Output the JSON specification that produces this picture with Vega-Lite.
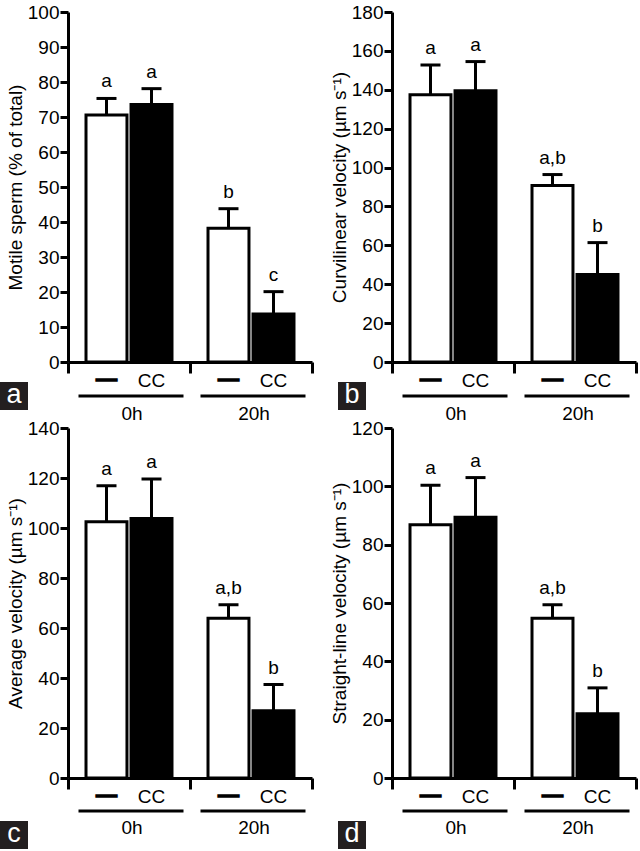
{
  "$schema": "https://vega.github.io/schema/vega-lite/v6.json",
  "padding": {"left": 0, "top": 3, "right": 5, "bottom": 5},
  "background": "white",
  "datasets": {
    "A": [
      {"time": "0h", "treat": "—", "value": 70.6, "upper": 75.3, "letter": "a"},
      {"time": "0h", "treat": "CC", "value": 73.6, "upper": 78.1, "letter": "a"},
      {"time": "20h", "treat": "—", "value": 38.2, "upper": 43.8, "letter": "b"},
      {"time": "20h", "treat": "CC", "value": 13.7, "upper": 20.1, "letter": "c"}
    ],
    "B": [
      {"time": "0h", "treat": "—", "value": 137.4, "upper": 152.7, "letter": "a"},
      {"time": "0h", "treat": "CC", "value": 139.5, "upper": 154.5, "letter": "a"},
      {"time": "20h", "treat": "—", "value": 90.8, "upper": 96.4, "letter": "a,b"},
      {"time": "20h", "treat": "CC", "value": 45.0, "upper": 61.4, "letter": "b"}
    ],
    "C": [
      {"time": "0h", "treat": "—", "value": 102.5, "upper": 116.9, "letter": "a"},
      {"time": "0h", "treat": "CC", "value": 103.8, "upper": 119.6, "letter": "a"},
      {"time": "20h", "treat": "—", "value": 63.9, "upper": 69.3, "letter": "a,b"},
      {"time": "20h", "treat": "CC", "value": 26.9, "upper": 37.4, "letter": "b"}
    ],
    "D": [
      {"time": "0h", "treat": "—", "value": 86.8, "upper": 100.4, "letter": "a"},
      {"time": "0h", "treat": "CC", "value": 89.4, "upper": 103.0, "letter": "a"},
      {"time": "20h", "treat": "—", "value": 54.8, "upper": 59.4, "letter": "a,b"},
      {"time": "20h", "treat": "CC", "value": 22.0, "upper": 30.9, "letter": "b"}
    ]
  },
  "columns": 2,
  "spacing": {"row": 66, "column": 80},
  "bounds": "flush",
  "concat": [
    {
      "width": 244, "height": 350,
      "data": {"name": "A"},
      "encoding": {
        "x": {"field": "time", "type": "nominal", "sort": ["0h", "20h"], "scale": {"paddingInner": 0, "paddingOuter": 0}, "axis": {"title": null, "labels": false, "tickBand": "extent", "tickSize": 11}}
      },
      "layer": [
        {"mark": {"type": "bar", "stroke": "black", "strokeWidth": 3},
         "encoding": {
           "xOffset": {"field": "treat", "type": "nominal", "sort": ["—", "CC"], "scale": {"paddingInner": 0.09, "paddingOuter": 0.4}},
           "y": {"field": "value", "type": "quantitative", "scale": {"domain": [0, 100], "nice": false}, "axis": {"values": [0, 10, 20, 30, 40, 50, 60, 70, 80, 90, 100], "title": "Motile sperm (% of total)"}},
           "fill": {"field": "treat", "type": "nominal", "scale": {"domain": ["—", "CC"], "range": ["white", "black"]}, "legend": null}
         }},
        {"mark": {"type": "rule", "strokeWidth": 3, "color": "black"},
         "encoding": {"xOffset": {"field": "treat", "type": "nominal", "sort": ["—", "CC"]}, "y": {"field": "value", "type": "quantitative", "axis": {"values": [0, 10, 20, 30, 40, 50, 60, 70, 80, 90, 100], "title": "Motile sperm (% of total)"}}, "y2": {"field": "upper"}}},
        {"mark": {"type": "tick", "size": 20, "thickness": 3, "color": "black", "opacity": 1},
         "encoding": {"xOffset": {"field": "treat", "type": "nominal", "sort": ["—", "CC"]}, "y": {"field": "upper", "type": "quantitative", "axis": {"values": [0, 10, 20, 30, 40, 50, 60, 70, 80, 90, 100], "title": "Motile sperm (% of total)"}}}},
        {"mark": {"type": "text", "baseline": "alphabetic", "dy": -11},
         "encoding": {"xOffset": {"field": "treat", "type": "nominal", "sort": ["—", "CC"]}, "y": {"field": "upper", "type": "quantitative", "axis": {"values": [0, 10, 20, 30, 40, 50, 60, 70, 80, 90, 100], "title": "Motile sperm (% of total)"}}, "text": {"field": "letter"}}},
        {"transform": [{"filter": "datum.treat === 'CC'"}],
         "mark": {"type": "text", "baseline": "middle", "dy": 19},
         "encoding": {"xOffset": {"field": "treat", "type": "nominal", "sort": ["—", "CC"]}, "y": {"datum": 0, "axis": {"values": [0, 10, 20, 30, 40, 50, 60, 70, 80, 90, 100], "title": "Motile sperm (% of total)"}}, "text": {"field": "treat"}}},
        {"transform": [{"filter": "datum.treat !== 'CC'"}],
         "mark": {"type": "text", "baseline": "middle", "dy": 17, "fontWeight": "bold", "fontSize": 21, "stroke": "black", "strokeWidth": 1.4},
         "encoding": {"xOffset": {"field": "treat", "type": "nominal", "sort": ["—", "CC"]}, "y": {"datum": 0, "axis": {"values": [0, 10, 20, 30, 40, 50, 60, 70, 80, 90, 100], "title": "Motile sperm (% of total)"}}, "text": {"field": "treat"}}},
        {"transform": [{"aggregate": [{"op": "count", "as": "n"}], "groupby": ["time"]}],
         "mark": {"type": "tick", "size": 105, "thickness": 3, "color": "black", "opacity": 1, "yOffset": 34, "xOffset": 2},
         "encoding": {"y": {"datum": 0, "axis": {"values": [0, 10, 20, 30, 40, 50, 60, 70, 80, 90, 100], "title": "Motile sperm (% of total)"}}}},
        {"transform": [{"aggregate": [{"op": "count", "as": "n"}], "groupby": ["time"]}],
         "mark": {"type": "text", "baseline": "middle", "dy": 52, "dx": 3},
         "encoding": {"y": {"datum": 0, "axis": {"values": [0, 10, 20, 30, 40, 50, 60, 70, 80, 90, 100], "title": "Motile sperm (% of total)"}}, "text": {"field": "time"}}},
        {"transform": [{"filter": "datum.time === '0h' && datum.treat === 'CC'"}],
         "mark": {"type": "point", "shape": "square", "size": 784, "filled": true, "color": "#231f20", "opacity": 1, "xOffset": -115, "yOffset": 34},
         "encoding": {"y": {"datum": 0, "axis": {"values": [0, 10, 20, 30, 40, 50, 60, 70, 80, 90, 100], "title": "Motile sperm (% of total)"}}}},
        {"transform": [{"filter": "datum.time === '0h' && datum.treat === 'CC'"}],
         "mark": {"type": "text", "baseline": "middle", "fontSize": 27, "color": "white", "xOffset": -115, "yOffset": 33},
         "encoding": {"y": {"datum": 0, "axis": {"values": [0, 10, 20, 30, 40, 50, 60, 70, 80, 90, 100], "title": "Motile sperm (% of total)"}}, "text": {"value": "a"}}}
      ]
    },
    {
      "width": 244, "height": 350,
      "data": {"name": "B"},
      "encoding": {
        "x": {"field": "time", "type": "nominal", "sort": ["0h", "20h"], "scale": {"paddingInner": 0, "paddingOuter": 0}, "axis": {"title": null, "labels": false, "tickBand": "extent", "tickSize": 11}}
      },
      "layer": [
        {"mark": {"type": "bar", "stroke": "black", "strokeWidth": 3},
         "encoding": {
           "xOffset": {"field": "treat", "type": "nominal", "sort": ["—", "CC"], "scale": {"paddingInner": 0.09, "paddingOuter": 0.4}},
           "y": {"field": "value", "type": "quantitative", "scale": {"domain": [0, 180], "nice": false}, "axis": {"values": [0, 20, 40, 60, 80, 100, 120, 140, 160, 180], "title": "Curvilinear velocity (µm s⁻¹)"}},
           "fill": {"field": "treat", "type": "nominal", "scale": {"domain": ["—", "CC"], "range": ["white", "black"]}, "legend": null}
         }},
        {"mark": {"type": "rule", "strokeWidth": 3, "color": "black"},
         "encoding": {"xOffset": {"field": "treat", "type": "nominal", "sort": ["—", "CC"]}, "y": {"field": "value", "type": "quantitative", "axis": {"values": [0, 20, 40, 60, 80, 100, 120, 140, 160, 180], "title": "Curvilinear velocity (µm s⁻¹)"}}, "y2": {"field": "upper"}}},
        {"mark": {"type": "tick", "size": 20, "thickness": 3, "color": "black", "opacity": 1},
         "encoding": {"xOffset": {"field": "treat", "type": "nominal", "sort": ["—", "CC"]}, "y": {"field": "upper", "type": "quantitative", "axis": {"values": [0, 20, 40, 60, 80, 100, 120, 140, 160, 180], "title": "Curvilinear velocity (µm s⁻¹)"}}}},
        {"mark": {"type": "text", "baseline": "alphabetic", "dy": -11},
         "encoding": {"xOffset": {"field": "treat", "type": "nominal", "sort": ["—", "CC"]}, "y": {"field": "upper", "type": "quantitative", "axis": {"values": [0, 20, 40, 60, 80, 100, 120, 140, 160, 180], "title": "Curvilinear velocity (µm s⁻¹)"}}, "text": {"field": "letter"}}},
        {"transform": [{"filter": "datum.treat === 'CC'"}],
         "mark": {"type": "text", "baseline": "middle", "dy": 19},
         "encoding": {"xOffset": {"field": "treat", "type": "nominal", "sort": ["—", "CC"]}, "y": {"datum": 0, "axis": {"values": [0, 20, 40, 60, 80, 100, 120, 140, 160, 180], "title": "Curvilinear velocity (µm s⁻¹)"}}, "text": {"field": "treat"}}},
        {"transform": [{"filter": "datum.treat !== 'CC'"}],
         "mark": {"type": "text", "baseline": "middle", "dy": 17, "fontWeight": "bold", "fontSize": 21, "stroke": "black", "strokeWidth": 1.4},
         "encoding": {"xOffset": {"field": "treat", "type": "nominal", "sort": ["—", "CC"]}, "y": {"datum": 0, "axis": {"values": [0, 20, 40, 60, 80, 100, 120, 140, 160, 180], "title": "Curvilinear velocity (µm s⁻¹)"}}, "text": {"field": "treat"}}},
        {"transform": [{"aggregate": [{"op": "count", "as": "n"}], "groupby": ["time"]}],
         "mark": {"type": "tick", "size": 105, "thickness": 3, "color": "black", "opacity": 1, "yOffset": 34, "xOffset": 2},
         "encoding": {"y": {"datum": 0, "axis": {"values": [0, 20, 40, 60, 80, 100, 120, 140, 160, 180], "title": "Curvilinear velocity (µm s⁻¹)"}}}},
        {"transform": [{"aggregate": [{"op": "count", "as": "n"}], "groupby": ["time"]}],
         "mark": {"type": "text", "baseline": "middle", "dy": 52, "dx": 3},
         "encoding": {"y": {"datum": 0, "axis": {"values": [0, 20, 40, 60, 80, 100, 120, 140, 160, 180], "title": "Curvilinear velocity (µm s⁻¹)"}}, "text": {"field": "time"}}},
        {"transform": [{"filter": "datum.time === '0h' && datum.treat === 'CC'"}],
         "mark": {"type": "point", "shape": "square", "size": 784, "filled": true, "color": "#231f20", "opacity": 1, "xOffset": -101, "yOffset": 34},
         "encoding": {"y": {"datum": 0, "axis": {"values": [0, 20, 40, 60, 80, 100, 120, 140, 160, 180], "title": "Curvilinear velocity (µm s⁻¹)"}}}},
        {"transform": [{"filter": "datum.time === '0h' && datum.treat === 'CC'"}],
         "mark": {"type": "text", "baseline": "middle", "fontSize": 27, "color": "white", "xOffset": -101, "yOffset": 33},
         "encoding": {"y": {"datum": 0, "axis": {"values": [0, 20, 40, 60, 80, 100, 120, 140, 160, 180], "title": "Curvilinear velocity (µm s⁻¹)"}}, "text": {"value": "b"}}}
      ]
    },
    {
      "width": 244, "height": 350,
      "data": {"name": "C"},
      "encoding": {
        "x": {"field": "time", "type": "nominal", "sort": ["0h", "20h"], "scale": {"paddingInner": 0, "paddingOuter": 0}, "axis": {"title": null, "labels": false, "tickBand": "extent", "tickSize": 11}}
      },
      "layer": [
        {"mark": {"type": "bar", "stroke": "black", "strokeWidth": 3},
         "encoding": {
           "xOffset": {"field": "treat", "type": "nominal", "sort": ["—", "CC"], "scale": {"paddingInner": 0.09, "paddingOuter": 0.4}},
           "y": {"field": "value", "type": "quantitative", "scale": {"domain": [0, 140], "nice": false}, "axis": {"values": [0, 20, 40, 60, 80, 100, 120, 140], "title": "Average velocity (µm s⁻¹)"}},
           "fill": {"field": "treat", "type": "nominal", "scale": {"domain": ["—", "CC"], "range": ["white", "black"]}, "legend": null}
         }},
        {"mark": {"type": "rule", "strokeWidth": 3, "color": "black"},
         "encoding": {"xOffset": {"field": "treat", "type": "nominal", "sort": ["—", "CC"]}, "y": {"field": "value", "type": "quantitative", "axis": {"values": [0, 20, 40, 60, 80, 100, 120, 140], "title": "Average velocity (µm s⁻¹)"}}, "y2": {"field": "upper"}}},
        {"mark": {"type": "tick", "size": 20, "thickness": 3, "color": "black", "opacity": 1},
         "encoding": {"xOffset": {"field": "treat", "type": "nominal", "sort": ["—", "CC"]}, "y": {"field": "upper", "type": "quantitative", "axis": {"values": [0, 20, 40, 60, 80, 100, 120, 140], "title": "Average velocity (µm s⁻¹)"}}}},
        {"mark": {"type": "text", "baseline": "alphabetic", "dy": -11},
         "encoding": {"xOffset": {"field": "treat", "type": "nominal", "sort": ["—", "CC"]}, "y": {"field": "upper", "type": "quantitative", "axis": {"values": [0, 20, 40, 60, 80, 100, 120, 140], "title": "Average velocity (µm s⁻¹)"}}, "text": {"field": "letter"}}},
        {"transform": [{"filter": "datum.treat === 'CC'"}],
         "mark": {"type": "text", "baseline": "middle", "dy": 19},
         "encoding": {"xOffset": {"field": "treat", "type": "nominal", "sort": ["—", "CC"]}, "y": {"datum": 0, "axis": {"values": [0, 20, 40, 60, 80, 100, 120, 140], "title": "Average velocity (µm s⁻¹)"}}, "text": {"field": "treat"}}},
        {"transform": [{"filter": "datum.treat !== 'CC'"}],
         "mark": {"type": "text", "baseline": "middle", "dy": 17, "fontWeight": "bold", "fontSize": 21, "stroke": "black", "strokeWidth": 1.4},
         "encoding": {"xOffset": {"field": "treat", "type": "nominal", "sort": ["—", "CC"]}, "y": {"datum": 0, "axis": {"values": [0, 20, 40, 60, 80, 100, 120, 140], "title": "Average velocity (µm s⁻¹)"}}, "text": {"field": "treat"}}},
        {"transform": [{"aggregate": [{"op": "count", "as": "n"}], "groupby": ["time"]}],
         "mark": {"type": "tick", "size": 105, "thickness": 3, "color": "black", "opacity": 1, "yOffset": 33, "xOffset": 2},
         "encoding": {"y": {"datum": 0, "axis": {"values": [0, 20, 40, 60, 80, 100, 120, 140], "title": "Average velocity (µm s⁻¹)"}}}},
        {"transform": [{"aggregate": [{"op": "count", "as": "n"}], "groupby": ["time"]}],
         "mark": {"type": "text", "baseline": "middle", "dy": 50, "dx": 3},
         "encoding": {"y": {"datum": 0, "axis": {"values": [0, 20, 40, 60, 80, 100, 120, 140], "title": "Average velocity (µm s⁻¹)"}}, "text": {"field": "time"}}},
        {"transform": [{"filter": "datum.time === '0h' && datum.treat === 'CC'"}],
         "mark": {"type": "point", "shape": "square", "size": 784, "filled": true, "color": "#231f20", "opacity": 1, "xOffset": -115, "yOffset": 57},
         "encoding": {"y": {"datum": 0, "axis": {"values": [0, 20, 40, 60, 80, 100, 120, 140], "title": "Average velocity (µm s⁻¹)"}}}},
        {"transform": [{"filter": "datum.time === '0h' && datum.treat === 'CC'"}],
         "mark": {"type": "text", "baseline": "middle", "fontSize": 27, "color": "white", "xOffset": -115, "yOffset": 56},
         "encoding": {"y": {"datum": 0, "axis": {"values": [0, 20, 40, 60, 80, 100, 120, 140], "title": "Average velocity (µm s⁻¹)"}}, "text": {"value": "c"}}}
      ]
    },
    {
      "width": 244, "height": 350,
      "data": {"name": "D"},
      "encoding": {
        "x": {"field": "time", "type": "nominal", "sort": ["0h", "20h"], "scale": {"paddingInner": 0, "paddingOuter": 0}, "axis": {"title": null, "labels": false, "tickBand": "extent", "tickSize": 11}}
      },
      "layer": [
        {"mark": {"type": "bar", "stroke": "black", "strokeWidth": 3},
         "encoding": {
           "xOffset": {"field": "treat", "type": "nominal", "sort": ["—", "CC"], "scale": {"paddingInner": 0.09, "paddingOuter": 0.4}},
           "y": {"field": "value", "type": "quantitative", "scale": {"domain": [0, 120], "nice": false}, "axis": {"values": [0, 20, 40, 60, 80, 100, 120], "title": "Straight-line velocity (µm s⁻¹)"}},
           "fill": {"field": "treat", "type": "nominal", "scale": {"domain": ["—", "CC"], "range": ["white", "black"]}, "legend": null}
         }},
        {"mark": {"type": "rule", "strokeWidth": 3, "color": "black"},
         "encoding": {"xOffset": {"field": "treat", "type": "nominal", "sort": ["—", "CC"]}, "y": {"field": "value", "type": "quantitative", "axis": {"values": [0, 20, 40, 60, 80, 100, 120], "title": "Straight-line velocity (µm s⁻¹)"}}, "y2": {"field": "upper"}}},
        {"mark": {"type": "tick", "size": 20, "thickness": 3, "color": "black", "opacity": 1},
         "encoding": {"xOffset": {"field": "treat", "type": "nominal", "sort": ["—", "CC"]}, "y": {"field": "upper", "type": "quantitative", "axis": {"values": [0, 20, 40, 60, 80, 100, 120], "title": "Straight-line velocity (µm s⁻¹)"}}}},
        {"mark": {"type": "text", "baseline": "alphabetic", "dy": -11},
         "encoding": {"xOffset": {"field": "treat", "type": "nominal", "sort": ["—", "CC"]}, "y": {"field": "upper", "type": "quantitative", "axis": {"values": [0, 20, 40, 60, 80, 100, 120], "title": "Straight-line velocity (µm s⁻¹)"}}, "text": {"field": "letter"}}},
        {"transform": [{"filter": "datum.treat === 'CC'"}],
         "mark": {"type": "text", "baseline": "middle", "dy": 19},
         "encoding": {"xOffset": {"field": "treat", "type": "nominal", "sort": ["—", "CC"]}, "y": {"datum": 0, "axis": {"values": [0, 20, 40, 60, 80, 100, 120], "title": "Straight-line velocity (µm s⁻¹)"}}, "text": {"field": "treat"}}},
        {"transform": [{"filter": "datum.treat !== 'CC'"}],
         "mark": {"type": "text", "baseline": "middle", "dy": 17, "fontWeight": "bold", "fontSize": 21, "stroke": "black", "strokeWidth": 1.4},
         "encoding": {"xOffset": {"field": "treat", "type": "nominal", "sort": ["—", "CC"]}, "y": {"datum": 0, "axis": {"values": [0, 20, 40, 60, 80, 100, 120], "title": "Straight-line velocity (µm s⁻¹)"}}, "text": {"field": "treat"}}},
        {"transform": [{"aggregate": [{"op": "count", "as": "n"}], "groupby": ["time"]}],
         "mark": {"type": "tick", "size": 105, "thickness": 3, "color": "black", "opacity": 1, "yOffset": 33, "xOffset": 2},
         "encoding": {"y": {"datum": 0, "axis": {"values": [0, 20, 40, 60, 80, 100, 120], "title": "Straight-line velocity (µm s⁻¹)"}}}},
        {"transform": [{"aggregate": [{"op": "count", "as": "n"}], "groupby": ["time"]}],
         "mark": {"type": "text", "baseline": "middle", "dy": 50, "dx": 3},
         "encoding": {"y": {"datum": 0, "axis": {"values": [0, 20, 40, 60, 80, 100, 120], "title": "Straight-line velocity (µm s⁻¹)"}}, "text": {"field": "time"}}},
        {"transform": [{"filter": "datum.time === '0h' && datum.treat === 'CC'"}],
         "mark": {"type": "point", "shape": "square", "size": 784, "filled": true, "color": "#231f20", "opacity": 1, "xOffset": -101, "yOffset": 57},
         "encoding": {"y": {"datum": 0, "axis": {"values": [0, 20, 40, 60, 80, 100, 120], "title": "Straight-line velocity (µm s⁻¹)"}}}},
        {"transform": [{"filter": "datum.time === '0h' && datum.treat === 'CC'"}],
         "mark": {"type": "text", "baseline": "middle", "fontSize": 27, "color": "white", "xOffset": -101, "yOffset": 56},
         "encoding": {"y": {"datum": 0, "axis": {"values": [0, 20, 40, 60, 80, 100, 120], "title": "Straight-line velocity (µm s⁻¹)"}}, "text": {"value": "d"}}}
      ]
    }
  ],
  "config": {
    "view": {"stroke": null},
    "font": "Liberation Sans",
    "axis": {"domainColor": "black", "domainWidth": 3, "tickColor": "black", "tickWidth": 3, "labelColor": "black", "labelFont": "Liberation Sans", "labelFontSize": 19, "titleFont": "Liberation Sans", "titleFontSize": 19, "titleFontWeight": "normal", "titleColor": "black", "grid": false, "labelOverlap": false},
    "axisY": {"tickSize": 8, "labelPadding": 1, "titlePadding": 2},
    "text": {"font": "Liberation Sans", "fontSize": 19, "color": "black"}
  }
}
